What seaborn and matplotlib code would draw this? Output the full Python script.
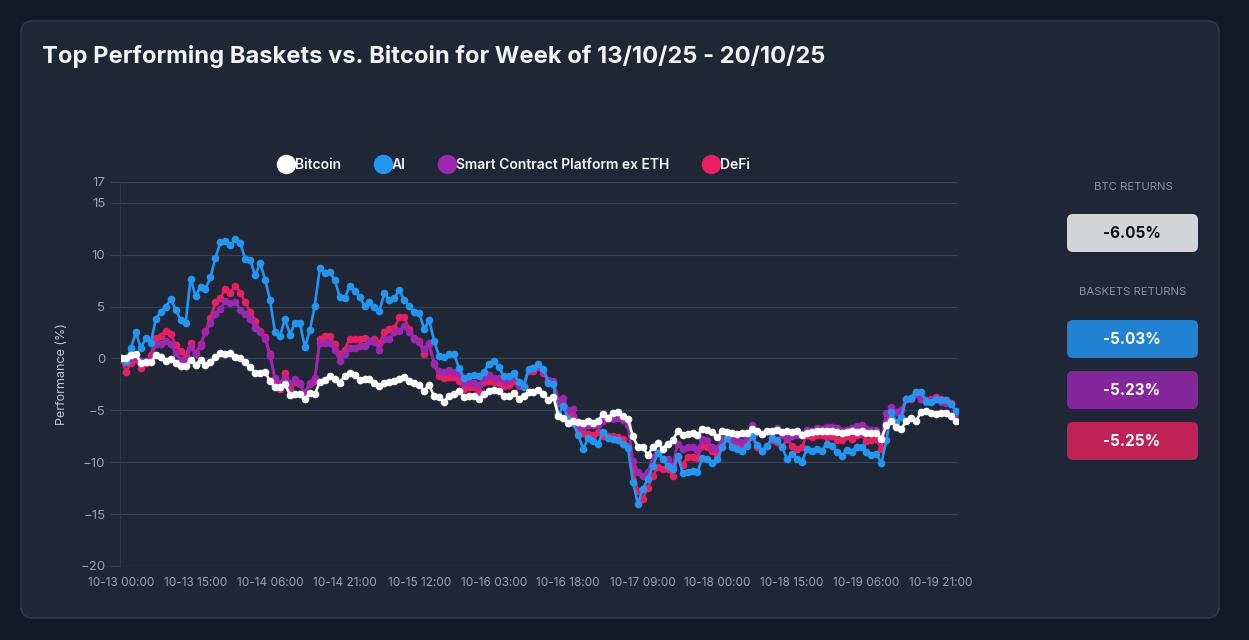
import pandas as pd
import numpy as np
import matplotlib.pyplot as plt
import matplotlib.dates as mdates
from matplotlib.patches import FancyBboxPatch
from matplotlib.lines import Line2D
import seaborn as sns

# Hourly timestamps for the week
times = pd.date_range("2025-10-13 00:00", periods=169, freq="h")

# Cumulative performance (%)
bitcoin = [
    0.06, 0.06, 0.3, 0.4, -0.4, -0.35, -0.35, 0.3, 0.15, -0.2,
    -0.03, -0.4, -0.7, -0.7, -0.15, -0.6, -0.15, -0.6, -0.3, 0.15,
    0.5, 0.4, 0.55, 0.15, 0.06, -0.35, -0.8, -1.45, -1.45, -1.3,
    -2.2, -2.8, -2.8, -2.5, -3.5, -3.4, -3.4, -3.9, -3.3, -3.4,
    -2.3, -2.1, -1.7, -2.0, -2.35, -1.7, -1.45, -1.55, -2.1, -2.0,
    -2.0, -2.35, -2.7, -2.35, -2.3,
    -2.15, -2.0, -1.8, -2.15, -2.4, -2.6, -3.1, -2.55, -3.65, -3.75,
    -4.15, -3.6, -3.45, -3.1, -3.75, -3.6, -3.65, -3.9, -3.45, -3.1,
    -3.0, -3.1, -3.6, -3.65, -3.3, -3.9, -3.6, -3.2, -3.2, -3.0,
    -3.45, -4.05, -3.75, -5.5, -5.7, -6.2, -6.0, -6.15, -6.2, -6.0,
    -6.2, -6.0, -5.35, -5.7, -5.25, -5.2, -5.55, -5.85, -7.5, -8.55,
    -8.55, -9.3, -8.55, -8.15, -8.7,
    -8.2, -7.9, -7.0, -7.35, -7.25, -7.15, -7.35, -6.8, -6.85, -7.1,
    -7.6, -7.0, -7.1, -7.15, -7.25, -7.15, -7.15, -6.8, -7.0, -7.25,
    -7.0, -6.95, -6.85, -7.1, -7.0, -7.1, -7.0, -7.35, -7.15, -7.1,
    -7.0, -7.0, -6.95, -6.95, -7.1, -7.15, -7.1, -7.0, -7.1, -7.0,
    -7.15, -7.15, -7.15, -7.75, -6.45, -6.05, -6.6, -6.8, -6.0, -5.75,
    -6.0, -5.15, -5.1, -5.25, -5.4, -5.3, -5.25, -5.5, -6.05,
]

ai = [
    0.0, -0.3, 1.0, 2.5, 1.0, 2.0, 1.5, 3.8, 4.5, 5.0,
    5.7, 4.7, 3.7, 3.4, 7.7, 6.0, 6.9, 6.7, 7.8, 9.7,
    11.2, 11.3, 10.9, 11.5, 11.1, 9.6, 9.5, 8.0, 9.2, 7.6,
    5.6, 2.5, 2.2, 3.8, 2.3, 3.4, 3.4, 1.1, 2.7, 5.1,
    8.7, 8.2, 8.3, 7.6, 5.9, 5.8, 7.0, 6.5, 5.9, 5.1,
    5.4, 5.0, 4.6, 6.3, 5.6,
    5.8, 6.6, 5.6, 5.1, 4.5, 4.4, 2.8, 3.7, 1.7, 0.2,
    0.1, 0.4, 0.4, -0.9, -1.9, -1.7, -1.6, -1.7, -1.3, -0.5,
    -0.2, -0.8, -1.7, -1.7, -1.4, -2.3, -2.8, -1.0, -0.9, -0.5,
    -1.0, -2.4, -2.5, -5.4, -4.6, -5.8, -6.2, -7.4, -8.7, -7.7,
    -8.0, -8.2, -7.1, -7.7, -7.8, -7.9, -8.2, -8.6, -11.9, -14.0,
    -12.6, -11.6, -10.4, -9.1, -9.7,
    -10.4, -10.7, -9.4, -11.0, -10.9, -10.8, -10.9, -9.6, -9.7, -10.1,
    -9.7, -8.5, -7.7, -8.5, -8.7, -8.9, -8.4, -7.5, -8.3, -8.9,
    -8.4, -7.7, -7.9, -8.5, -9.7, -9.2, -9.7, -10.0, -8.7, -8.9,
    -8.7, -8.9, -8.2, -8.4, -9.0, -9.4, -8.8, -9.0, -8.5, -8.5,
    -9.0, -9.3, -9.2, -10.1, -7.9, -5.2, -6.1, -5.6, -3.9, -3.8,
    -3.2, -3.2, -4.1, -4.2, -3.9, -4.0, -4.0, -4.4, -5.03,
]

smart_contract = [
    0.05, -0.35, 0.0, 0.2, -0.25, -0.25, -0.1, 1.35, 1.35, 1.65,
    1.35, 0.55, -0.15, -0.25, 1.1, 0.4, 1.2, 2.5, 3.45, 4.25,
    4.8, 5.5, 5.35, 5.4, 4.7, 4.25, 3.8, 2.95, 2.5, 1.85,
    0.2, -1.85, -2.35, -1.85, -2.4, -2.0, -2.4, -3.3, -2.35, -1.85,
    1.5, 1.5, 1.45, 0.85, -0.25, 0.4, 1.05, 1.05, 1.2, 1.2,
    1.65, 1.6, 0.8, 1.85, 1.85,
    2.5, 2.65, 3.1, 2.5, 1.85, 1.55, 0.9, 1.5, -0.45, -1.2,
    -1.35, -1.1, -1.3, -1.5, -2.35, -2.3, -2.35, -2.55, -1.85, -1.6,
    -1.85, -1.9, -2.25, -2.0, -1.65, -2.6, -2.55, -1.1, -0.95, -0.75,
    -1.2, -2.05, -2.15, -4.0, -3.85, -4.95, -4.85, -6.45, -6.65, -6.4,
    -6.45, -6.45, -6.0, -5.75, -5.85, -5.75, -5.9, -6.45, -9.85, -10.95,
    -11.3, -10.95, -9.5, -9.1, -9.65,
    -9.7, -10.4, -8.2, -8.7, -8.55, -8.55, -8.8, -7.75, -7.9, -8.55,
    -8.65, -7.75, -7.7, -7.9, -7.9, -8.05, -7.6, -6.45, -7.1, -7.25,
    -7.1, -7.15, -6.7, -7.35, -7.7, -7.5, -7.4, -7.25, -6.85, -6.95,
    -6.7, -6.8, -6.6, -6.6, -6.7, -7.0, -6.85, -6.7, -6.5, -6.45,
    -6.8, -6.85, -6.85, -7.7, -5.3, -4.7, -5.15, -5.0, -3.9, -3.8,
    -3.2, -3.95, -4.2, -4.1, -3.95, -4.2, -4.25, -4.35, -5.23,
]

defi = [
    0.05, -1.3, -0.4, -0.1, -0.9, -0.4, 0.3, 2.0, 2.15, 2.6,
    2.4, 1.25, 0.7, 0.2, 1.5, 0.5, 1.35, 2.6, 3.9, 5.4,
    5.85, 6.65, 6.35, 7.0, 6.35, 5.4, 4.5, 3.6, 2.6, 2.1,
    0.4, -2.2, -2.9, -1.45, -2.85, -2.3, -2.5, -3.4, -2.5, -2.2,
    1.85, 2.2, 2.15, 1.35, 0.4, 0.85, 1.9, 1.85, 1.9, 2.0,
    1.65, 1.9, 1.5, 2.5, 2.85,
    2.9, 3.95, 3.95, 2.8, 2.0, 1.7, 0.4, 1.4, -0.55, -1.65,
    -1.9, -1.75, -1.8, -2.15, -2.95, -2.8, -2.8, -3.25, -2.3, -2.15,
    -2.3, -2.35, -2.7, -2.55, -2.15, -2.7, -2.7, -1.2, -1.2, -0.85,
    -1.4, -2.15, -2.3, -4.25, -4.6, -5.2, -5.5, -6.8, -7.2, -7.3,
    -7.35, -7.1, -7.5, -7.5, -7.45, -7.6, -7.75, -8.4, -10.6, -12.8,
    -13.5, -12.5, -11.3, -10.5, -10.7,
    -10.65, -11.3, -9.5, -10.25, -9.5, -9.5, -9.6, -8.4, -8.55, -8.95,
    -9.2, -8.05, -7.6, -8.2, -8.4, -8.55, -8.2, -7.6, -8.55, -8.9,
    -8.4, -7.9, -8.05, -8.55, -7.75, -8.4, -8.7, -8.55, -7.35, -7.6,
    -7.4, -7.35, -7.6, -7.5, -7.9, -7.9, -7.5, -7.75, -7.4, -7.25,
    -8.0, -7.9, -7.75, -8.7, -6.1, -5.15, -5.2, -5.0, -3.9, -3.9,
    -3.4, -3.95, -4.05, -3.9, -3.7, -3.9, -4.05, -4.25, -5.25,
]

series_names = ["Bitcoin", "AI", "Smart Contract Platform ex ETH", "DeFi"]
series_colors = ["#ffffff", "#2196f3", "#9c27b0", "#e91e63"]
returns = ["-6.05%", "-5.03%", "-5.23%", "-5.25%"]
box_colors = ["#d4d5d8", "#2181d2", "#84279b", "#c02157"]

df = pd.DataFrame({"time": times, "Bitcoin": bitcoin, "AI": ai,
                   "Smart Contract Platform ex ETH": smart_contract, "DeFi": defi})
long = df.melt(id_vars="time", var_name="series", value_name="perf")

W, H = 1249, 640
fig = plt.figure(figsize=(W / 100, H / 100), dpi=100, facecolor="#121a28")
plt.rcParams["font.family"] = ["Inter", "DejaVu Sans"]

# background card drawn in pixel coordinates
bg = fig.add_axes([0, 0, 1, 1], zorder=0)
bg.set_xlim(0, W)
bg.set_ylim(H, 0)
bg.axis("off")
bg.add_patch(FancyBboxPatch((21, 21), 1198, 597, boxstyle="round,pad=0,rounding_size=12",
                            facecolor="#1f2737", edgecolor="#2f3848", linewidth=1.2))
bg.text(42, 56, "Top Performing Baskets vs. Bitcoin for Week of 13/10/25 - 20/10/25",
        color="#f3f4f6", fontsize=17.1, fontweight="bold", va="center", ha="left")

# returns panel
bg.text(1133, 187, "BTC RETURNS", color="#8b93a1", fontsize=8.2, ha="center", va="center")
bg.text(1133, 292, "BASKETS RETURNS", color="#8b93a1", fontsize=8.2, ha="center", va="center")
box_tops = [214, 320, 371, 422]
for top, col, txt in zip(box_tops, box_colors, returns):
    bg.add_patch(FancyBboxPatch((1067, top), 131, 38, boxstyle="round,pad=0,rounding_size=6",
                                facecolor=col, edgecolor="none"))
    tcol = "#111111" if col == box_colors[0] else "#ffffff"
    bg.text(1132, top + 19.5, txt, color=tcol, fontsize=11, fontweight="bold",
            ha="center", va="center")

# main chart
ax = fig.add_axes([120 / W, 1 - 566 / H, (958 - 120) / W, (566 - 182) / H], zorder=1)
ax.set_facecolor("none")
order = ["DeFi", "Smart Contract Platform ex ETH", "AI", "Bitcoin"]
for name in order:
    col = series_colors[series_names.index(name)]
    sns.lineplot(data=long[long["series"] == name], x="time", y="perf", ax=ax,
                 color=col, linewidth=1.9, marker="o", markersize=5.5,
                 markeredgewidth=0, legend=False)

start = times[0]
ax.set_xlim(start - pd.Timedelta(minutes=12), times[-1] + pd.Timedelta(minutes=25))
ax.set_ylim(-20, 17)
ax.set_yticks([17, 15, 10, 5, 0, -5, -10, -15, -20])
ax.set_xticks(pd.date_range(start, periods=12, freq="15h"))
ax.xaxis.set_major_formatter(mdates.DateFormatter("%m-%d %H:%M"))
ax.grid(axis="y", color="#374151", linewidth=0.9)
ax.grid(axis="x", visible=False)
for s in ["top", "right", "bottom"]:
    ax.spines[s].set_visible(False)
ax.spines["left"].set_color("#2f3848")
ax.tick_params(axis="y", colors="#374151", labelcolor="#9ca3af", labelsize=9.5, length=7, width=0.9)
ax.tick_params(axis="x", colors="#9ca3af", labelsize=8.5, length=0, pad=8)
ax.set_xlabel("")
ax.set_ylabel("Performance (%)", color="#c4c8d0", fontsize=9, labelpad=9)

handles = [Line2D([], [], linestyle="none", marker="o", markersize=14,
                  markerfacecolor=c, markeredgewidth=0) for c in series_colors]
leg = fig.legend(handles, series_names, loc="center", bbox_to_anchor=(514 / W, 1 - 165 / H),
                 ncol=4, frameon=False, handletextpad=0.05, columnspacing=2.4,
                 fontsize=10, handlelength=1.2)
for t in leg.get_texts():
    t.set_color("#f3f4f6")
    t.set_fontweight("semibold")

fig.savefig("out.png", dpi=100, facecolor=fig.get_facecolor())
